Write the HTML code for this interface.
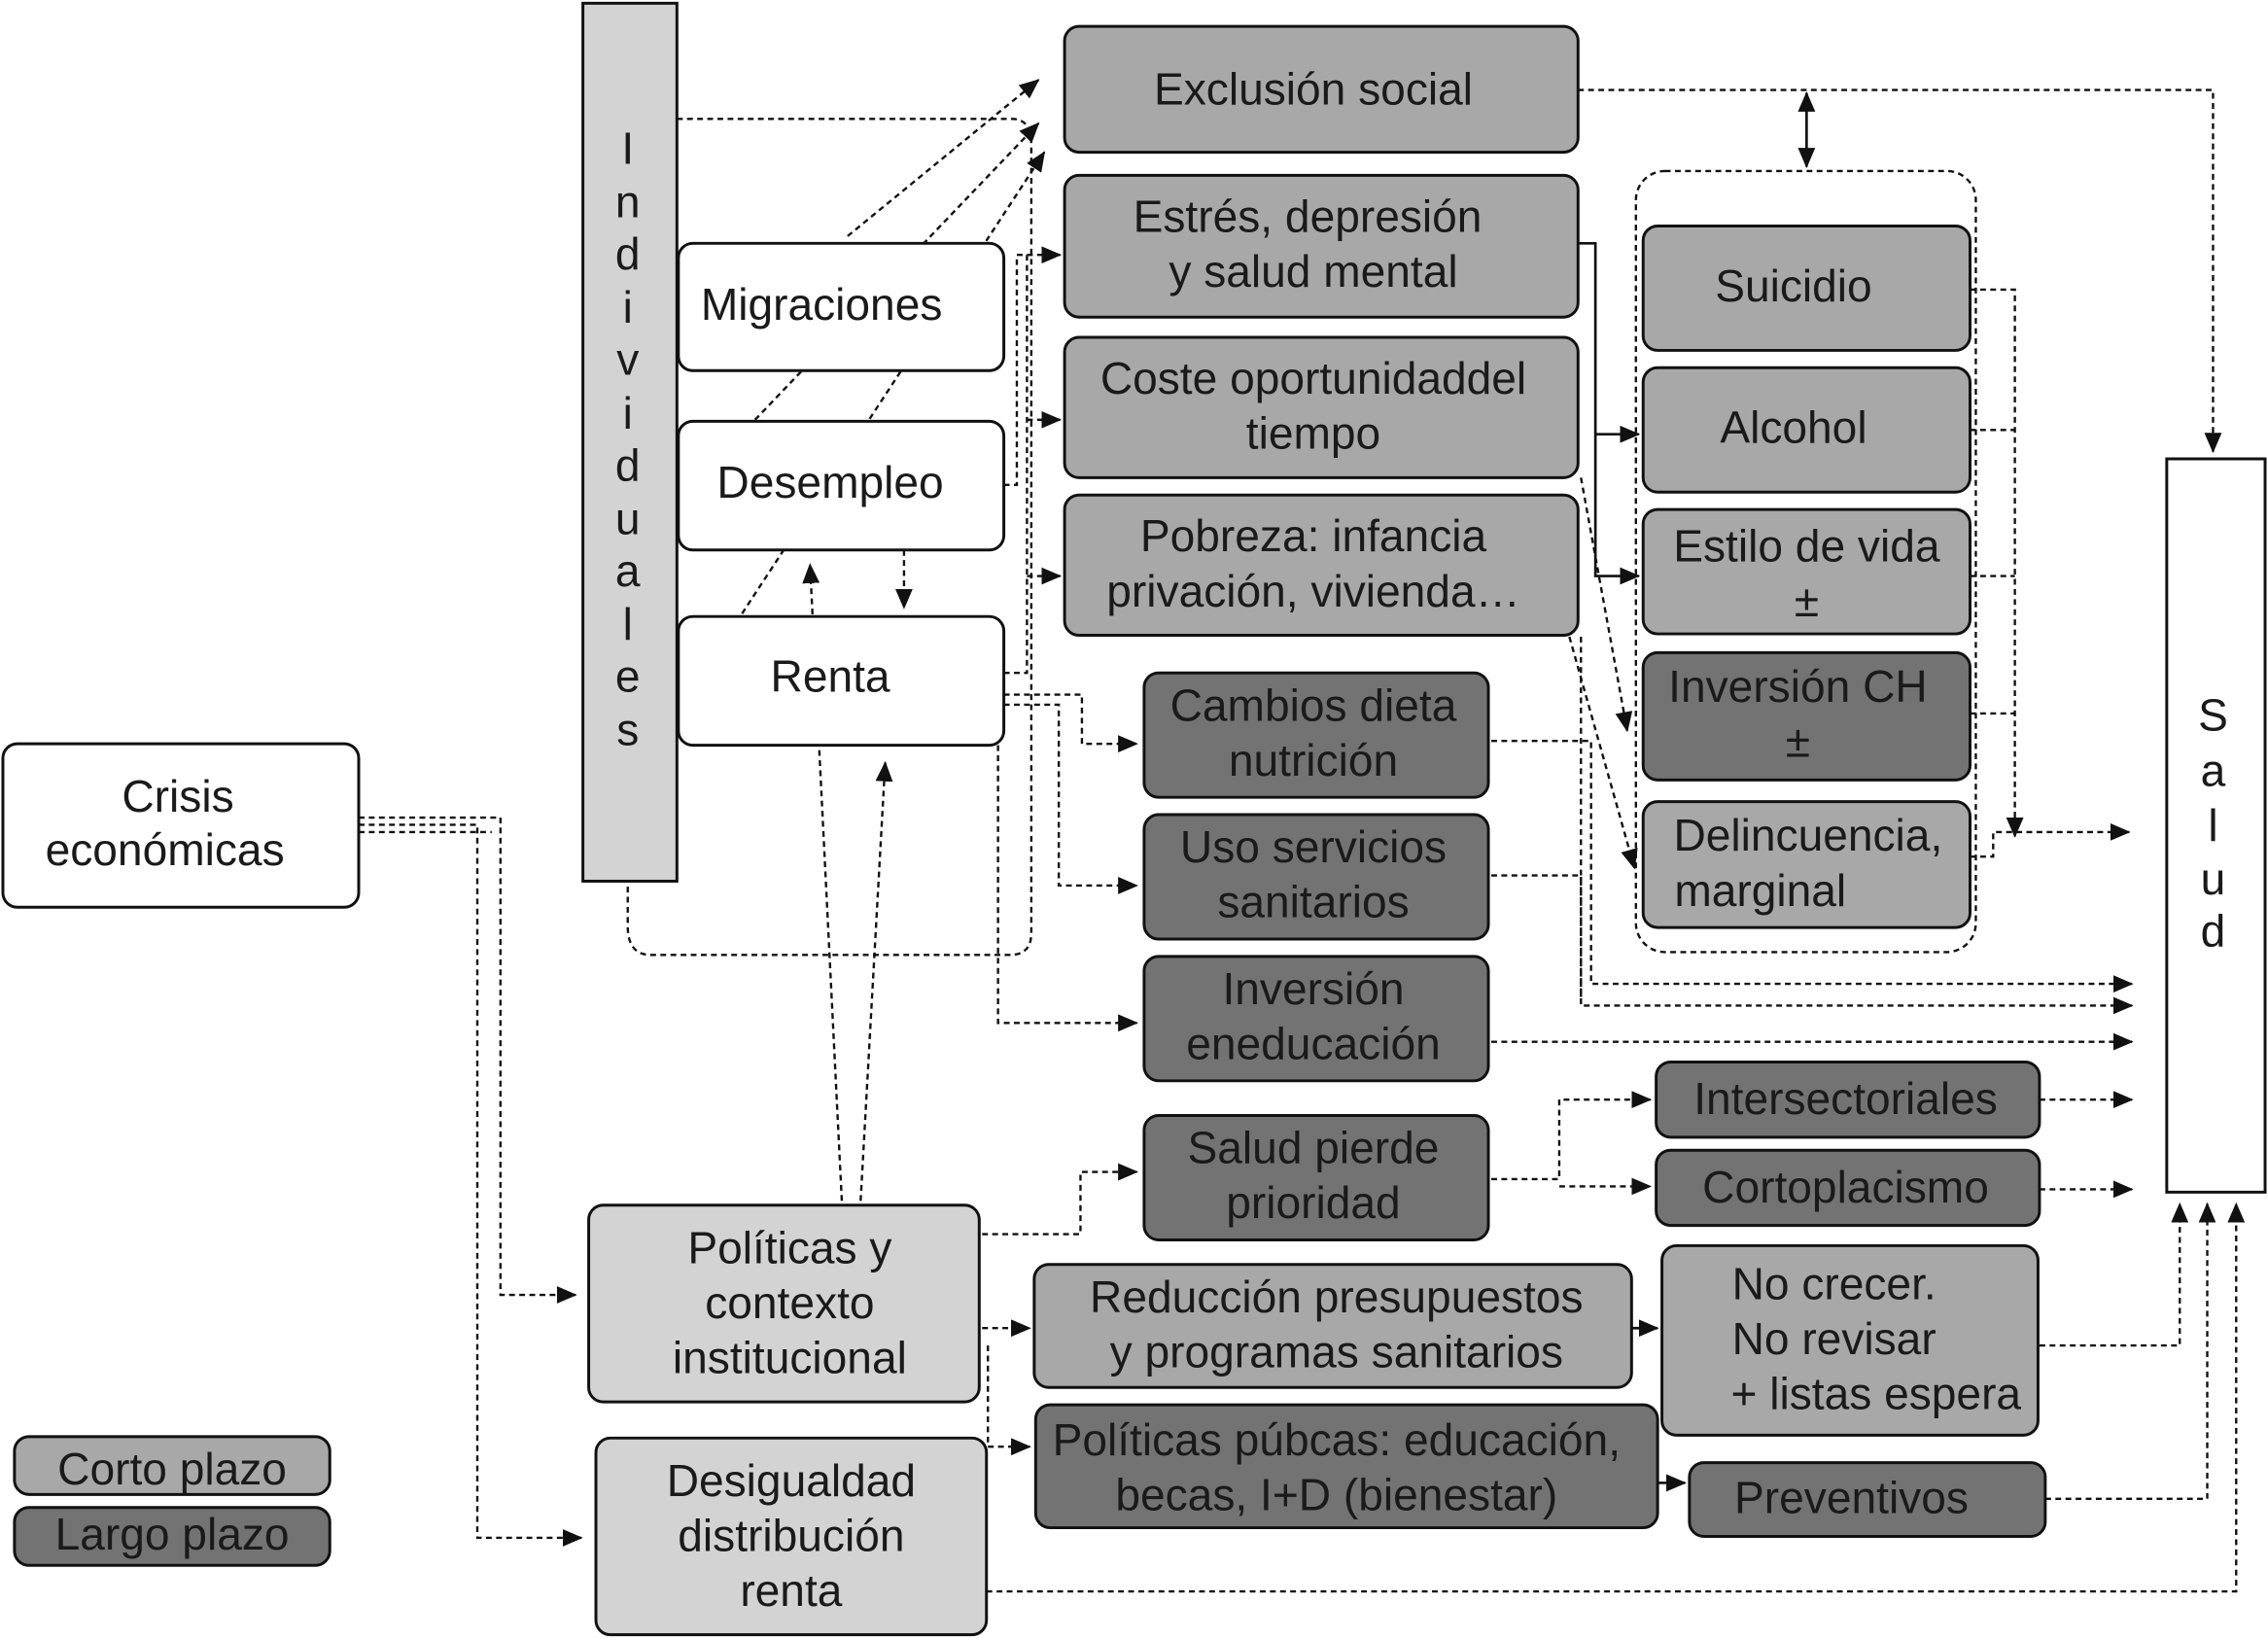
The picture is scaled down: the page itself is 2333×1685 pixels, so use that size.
<!DOCTYPE html>
<html><head><meta charset="utf-8"><style>
html,body{margin:0;padding:0;background:#fff;}
svg{display:block;}
text{font-family:"Liberation Sans",sans-serif;font-size:31px;fill:#1a1a1a;text-anchor:middle;}
.b{stroke:#111;stroke-width:2;}
.w{fill:#fff}.l{fill:#d3d3d3}.m{fill:#a8a8a8}.d{fill:#737373}
.c{fill:none;stroke:#111;stroke-width:1.6;stroke-dasharray:4,3;}
.s{fill:none;stroke:#111;stroke-width:1.8;}
</style></head><body>
<svg width="2333" height="1685" viewBox="0 0 1568 1132" xmlns="http://www.w3.org/2000/svg">
<defs>
<marker id="a2" markerWidth="14" markerHeight="12" refX="13" refY="6" orient="auto-start-reverse" markerUnits="userSpaceOnUse"><path d="M0,0 L14,6 L0,12z" fill="#111"/></marker></defs>

<g class="c">
<path d="M248,565 H346 V895 H398" marker-end="url(#a2)"/>
<path d="M248,570 H330 V1063 H402" marker-end="url(#a2)"/>
<path d="M248,575 H340"/>
<path d="M468,82 H700 Q713,82 713,100 V645 Q713,660 698,660 H450 Q434,660 434,640 V609"/>
<path d="M586,163 L718,55" marker-end="url(#a2)"/>
<path d="M522,290 L718,85" marker-end="url(#a2)"/>
<path d="M513,424 L722,105" marker-end="url(#a2)"/>
<path d="M694,335 H703 V176 H733" marker-end="url(#a2)"/>
<path d="M694,465 H710 V176"/>
<path d="M710,290 H733" marker-end="url(#a2)"/>
<path d="M710,398 H733" marker-end="url(#a2)"/>
<path d="M694,480 H748 V514 H786" marker-end="url(#a2)"/>
<path d="M694,487 H732 V612 H786" marker-end="url(#a2)"/>
<path d="M690,515 V707 H786" marker-end="url(#a2)"/>
<path d="M625,380 V420" marker-end="url(#a2)"/>
<path d="M582,830 L560,390" marker-end="url(#a2)"/>
<path d="M595,830 L612,527" marker-end="url(#a2)"/>
<path d="M679,853 H747 V810 H786" marker-end="url(#a2)"/>
<path d="M679,918 H712" marker-end="url(#a2)"/>
<path d="M683,930 V1000 H712" marker-end="url(#a2)"/>
<path d="M1031,815 H1078 V760 H1141" marker-end="url(#a2)"/>
<path d="M1078,820 H1141" marker-end="url(#a2)"/>
<path d="M1410,760 H1474" marker-end="url(#a2)"/>
<path d="M1410,822 H1474" marker-end="url(#a2)"/>
<path d="M1410,930 H1507 V832" marker-end="url(#a2)"/>
<path d="M1414,1036 H1526 V832" marker-end="url(#a2)"/>
<path d="M682,1100 H1546 V832" marker-end="url(#a2)"/>
<path d="M1091,62 H1530 V312" marker-end="url(#a2)"/>
<path d="M1085,440 L1130,600" marker-end="url(#a2)"/>
<path d="M1093,330 L1125,505" marker-end="url(#a2)"/>
<path d="M1362,200 H1393 V578" marker-end="url(#a2)"/>
<path d="M1362,297 H1393 M1362,398 H1393 M1362,493 H1393"/>
<path d="M1362,592 H1378 V575 H1472" marker-end="url(#a2)"/>
<path d="M1031,512 H1100 V680 H1474" marker-end="url(#a2)"/>
<path d="M1031,605 H1093 V695 H1474" marker-end="url(#a2)"/>
<path d="M1031,720 H1474" marker-end="url(#a2)"/>
<path d="M1093,440 V690"/>
<rect x="1131" y="118" width="235" height="540" rx="20"/>
</g>
<g class="s">
<path d="M1249,64 V115" marker-start="url(#a2)" marker-end="url(#a2)"/>
<path d="M1091,168 H1103 V398 H1133" marker-end="url(#a2)"/>
<path d="M1103,300 H1133" marker-end="url(#a2)"/>
<path d="M1128,918 H1146" marker-end="url(#a2)"/>
<path d="M1146,1025 H1165" marker-end="url(#a2)"/>
</g>

<g class="b">
<rect class="w" x="2" y="514" width="246" height="113" rx="10"/>
<rect class="l" x="403" y="2" width="65" height="607"/>
<rect class="w" x="469" y="168" width="225" height="88" rx="10"/>
<rect class="w" x="469" y="291" width="225" height="89" rx="10"/>
<rect class="w" x="469" y="426" width="225" height="89" rx="10"/>
<rect class="m" x="736" y="18" width="355" height="87" rx="10"/>
<rect class="m" x="736" y="121" width="355" height="98" rx="10"/>
<rect class="m" x="736" y="233" width="355" height="97" rx="10"/>
<rect class="m" x="736" y="342" width="355" height="97" rx="10"/>
<rect class="d" x="791" y="465" width="238" height="86" rx="10"/>
<rect class="d" x="791" y="563" width="238" height="86" rx="10"/>
<rect class="d" x="791" y="661" width="238" height="86" rx="10"/>
<rect class="d" x="791" y="771" width="238" height="86" rx="10"/>
<rect class="m" x="1136" y="156" width="226" height="86" rx="10"/>
<rect class="m" x="1136" y="254" width="226" height="86" rx="10"/>
<rect class="m" x="1136" y="352" width="226" height="86" rx="10"/>
<rect class="d" x="1136" y="451" width="226" height="88" rx="10"/>
<rect class="m" x="1136" y="554" width="226" height="87" rx="10"/>
<rect class="w" x="1498" y="317" width="68" height="507"/>
<rect class="d" x="1145" y="734" width="265" height="52" rx="10"/>
<rect class="d" x="1145" y="795" width="265" height="52" rx="10"/>
<rect class="l" x="407" y="833" width="270" height="136" rx="10"/>
<rect class="l" x="412" y="994" width="270" height="136" rx="10"/>
<rect class="m" x="715" y="874" width="413" height="85" rx="10"/>
<rect class="m" x="1149" y="861" width="260" height="131" rx="10"/>
<rect class="d" x="716" y="971" width="430" height="85" rx="10"/>
<rect class="d" x="1168" y="1011" width="246" height="51" rx="10"/>
<rect class="m" x="10" y="993" width="218" height="40" rx="10"/>
<rect class="d" x="10" y="1042" width="218" height="40" rx="10"/>
</g>

<text x="123" y="561">Crisis</text><text x="114" y="598">económicas</text>
<g>
<text x="434" y="113">I</text><text x="434" y="150">n</text><text x="434" y="186">d</text><text x="434" y="223">i</text><text x="434" y="259">v</text><text x="434" y="296">i</text><text x="434" y="332">d</text><text x="434" y="369">u</text><text x="434" y="405">a</text><text x="434" y="442">l</text><text x="434" y="478">e</text><text x="434" y="515">s</text>
</g>
<text x="568" y="221">Migraciones</text>
<text x="574" y="344">Desempleo</text>
<text x="574" y="478">Renta</text>
<text x="908" y="72">Exclusión social</text>
<text x="904" y="160">Estrés, depresión</text><text x="908" y="198">y salud mental</text>
<text x="908" y="272">Coste oportunidaddel</text><text x="908" y="310">tiempo</text>
<text x="908" y="381">Pobreza: infancia</text><text x="908" y="419">privación, vivienda…</text>
<text x="908" y="498">Cambios dieta</text><text x="908" y="536">nutrición</text>
<text x="908" y="596">Uso servicios</text><text x="908" y="634">sanitarios</text>
<text x="908" y="694">Inversión</text><text x="908" y="732">eneducación</text>
<text x="908" y="804">Salud pierde</text><text x="908" y="842">prioridad</text>
<text x="1240" y="208">Suicidio</text>
<text x="1240" y="306">Alcohol</text>
<text x="1249" y="388">Estilo de vida</text><text x="1249" y="426">±</text>
<text x="1243" y="485">Inversión CH</text><text x="1243" y="523">±</text>
<text x="1250" y="588">Delincuencia,</text><text x="1217" y="626">marginal</text>
<g><text x="1530" y="505">S</text><text x="1530" y="543">a</text><text x="1530" y="581">l</text><text x="1530" y="618">u</text><text x="1530" y="654">d</text></g>
<text x="1276" y="770">Intersectoriales</text>
<text x="1276" y="831">Cortoplacismo</text>
<text x="546" y="873">Políticas y</text><text x="546" y="911">contexto</text><text x="546" y="949">institucional</text>
<text x="547" y="1034">Desigualdad</text><text x="547" y="1072">distribución</text><text x="547" y="1110">renta</text>
<text x="924" y="907">Reducción presupuestos</text><text x="924" y="945">y programas sanitarios</text>
<text x="1268" y="898">No crecer.</text><text x="1268" y="936">No revisar</text><text x="1297" y="974">+ listas espera</text>
<text x="924" y="1006">Políticas púbcas: educación,</text><text x="924" y="1044">becas, I+D (bienestar)</text>
<text x="1280" y="1046">Preventivos</text>
<text x="119" y="1026">Corto plazo</text>
<text x="119" y="1071">Largo plazo</text>
</svg>
</body></html>
